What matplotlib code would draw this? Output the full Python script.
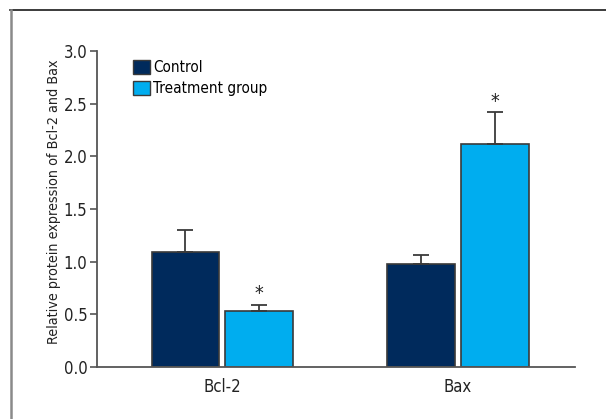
import matplotlib
matplotlib.use('Agg')
import matplotlib.pyplot as plt
from matplotlib.patches import Patch
from matplotlib.lines import Line2D
import numpy as np

plt.rcParams['font.family'] = ['DejaVu Sans']
plt.rcParams['font.stretch'] = 'condensed'

proteins = ['Bcl-2', 'Bax']
series = ['Control', 'Treatment group']
control_mean = [1.09, 0.98]
control_err = [0.21, 0.08]
treat_mean = [0.53, 2.12]
treat_err = [0.06, 0.30]
significant = [True, True]   # treatment vs control, per protein

navy = '#002a5c'
cyan = '#00adef'
edge = '#3a3a3a'
axis_grey = '#555555'

fig = plt.figure(figsize=(6.06, 4.19), dpi=100)
ax = fig.add_axes([97/606, 52/419, 478/606, 316/419])

# outer frame: only the top and left edges show
fig.add_artist(Line2D([10/606, 1], [1 - 10/419, 1 - 10/419], color='#1a1a1a', lw=1.2))
fig.add_artist(Line2D([11/606, 11/606], [0, 1 - 10/419], color='#8a8a8a', lw=1.8))

x = np.arange(len(proteins))
w = 0.288
off = 0.155
err_kw = dict(ecolor=edge, elinewidth=1.3, capsize=6, capthick=1.3)

ax.bar(x - off, control_mean, w, color=navy, edgecolor=edge, linewidth=1.2,
       yerr=[np.zeros(len(x)), control_err], error_kw=err_kw, zorder=2)
ax.bar(x + off, treat_mean, w, color=cyan, edgecolor=edge, linewidth=1.2,
       yerr=[np.zeros(len(x)), treat_err], error_kw=err_kw, zorder=2)

for i in range(len(x)):
    if significant[i]:
        ax.annotate('*', (x[i] + off, treat_mean[i] + treat_err[i]),
                    xytext=(0, 1), textcoords='offset points',
                    ha='center', va='bottom', fontsize=14, color='#222222')

ax.set_xlim(-0.53, 1.496)
ax.set_ylim(0, 3.0)
ax.set_yticks(np.arange(0, 3.01, 0.5))
ax.set_yticklabels([f'{v:.1f}' for v in np.arange(0, 3.01, 0.5)])
ax.set_xticks(x)
ax.set_xticklabels(proteins)
ax.tick_params(axis='x', length=0, pad=8, labelsize=12, labelcolor='#222222')
ax.tick_params(axis='y', length=5, width=1.2, color=axis_grey, pad=2,
               labelsize=12, labelcolor='#222222')

for s in ['top', 'right']:
    ax.spines[s].set_visible(False)
for s in ['left', 'bottom']:
    ax.spines[s].set_color(axis_grey)
    ax.spines[s].set_linewidth(1.3)

ax.set_ylabel('Relative protein expression of Bcl-2 and Bax', fontsize=10.3,
              color='#222222')
ax.yaxis.set_label_coords(-0.075, 0.524)

handles = [Patch(facecolor=navy, edgecolor=edge, linewidth=1.0),
           Patch(facecolor=cyan, edgecolor=edge, linewidth=1.0)]
ax.legend(handles, series, loc='upper left', bbox_to_anchor=(0.0753, 0.972),
          frameon=False, fontsize=11, handlelength=1.1, handleheight=1.05,
          handletextpad=0.2, labelspacing=0.36, borderaxespad=0, borderpad=0)

fig.savefig('out.png', dpi=100)
